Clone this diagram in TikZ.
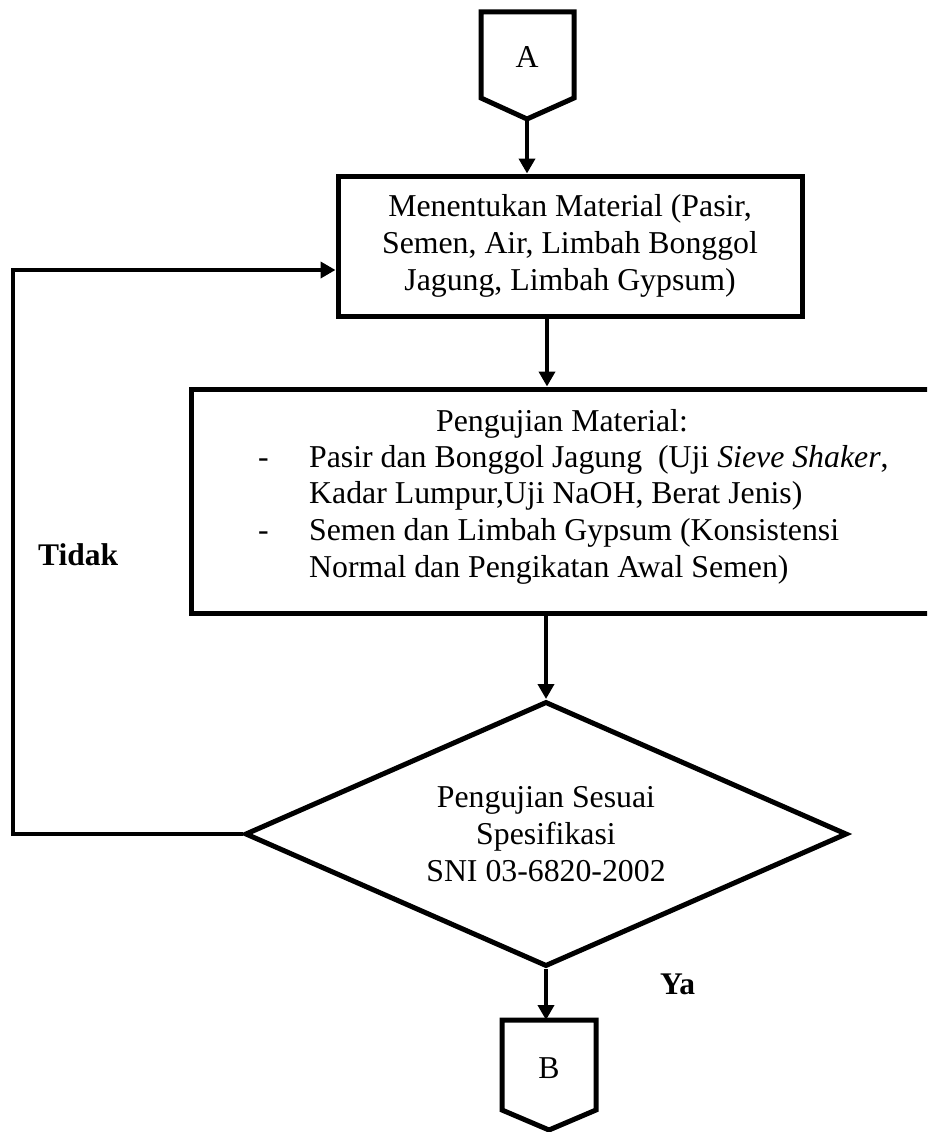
\documentclass[tikz,border=0pt]{standalone}
\usepackage{fontspec}
\setmainfont{Liberation Serif}
\usetikzlibrary{arrows.meta,shapes.geometric,calc}
\begin{document}
\begin{tikzpicture}[x=1pt,y=-1pt,
  shapeline/.style={draw=black,line width=5pt,line join=miter},
  conn/.style={draw=black,line width=4pt},
  arr/.style={conn,-{Triangle[length=15pt,width=16pt]}},
  txt/.style={font=\fontsize{31.8}{36.8}\selectfont,inner sep=0pt},
  lbl/.style={font=\fontsize{31.5}{36.8}\selectfont\bfseries,inner sep=0pt},
]
\useasboundingbox (0,0) rectangle (927,1132);
\clip (0,0) rectangle (927,1132);

% off-page connector A
\coordinate (Atl) at (481,12);
\coordinate (Atr) at (574,12);
\coordinate (Abr) at (574,98);
\coordinate (Atip) at (527,119);
\coordinate (Abl) at (481,98);
\draw[shapeline] (Atl) -- (Atr) -- (Abr) -- (Atip) -- (Abl) -- cycle;
\node[txt] (A) at (527,57) {A};

% box 1
\node[shapeline, txt, minimum width=464, minimum height=140, align=center] (box1) at (570,246)
  {Menentukan Material (Pasir,\\Semen, Air, Limbah Bonggol\\Jagung, Limbah Gypsum)};

% box 2
\node[shapeline, minimum width=742, minimum height=224] (box2) at (562,501) {};
\node[txt, anchor=base] (h2) at (562,431) {Pengujian Material:};
\node[txt, anchor=base west] (list) at (258,467)
  {\begin{tabular}[t]{@{}p{51pt}@{}l@{}}
   -&Pasir dan Bonggol Jagung\ \ (Uji \textit{Sieve Shaker},\\
    &Kadar Lumpur,Uji NaOH, Berat Jenis)\\
   -&Semen dan Limbah Gypsum (Konsistensi\\
    &Normal dan Pengikatan Awal Semen)
   \end{tabular}};

% decision
\node[diamond, shapeline, shape aspect=2.27, minimum width=602, minimum height=265,
      inner sep=0pt, align=center, font=\fontsize{31.8}{36.8}\selectfont] (dia) at (546,834)
  {Pengujian Sesuai\\Spesifikasi\\SNI 03-6820-2002};

% off-page connector B
\coordinate (Btl) at (502,1020);
\coordinate (Btr) at (596,1020);
\coordinate (Bbr) at (596,1110);
\coordinate (Btip) at (549,1130);
\coordinate (Bbl) at (502,1110);
\coordinate (Btop) at (549,1020);
\draw[shapeline] (Btl) -- (Btr) -- (Bbr) -- (Btip) -- (Bbl) -- cycle;
\node[txt] (B) at (549,1068) {B};

% connectors
\coordinate (c12) at (547,316);
\draw[arr] (Atip) -- (box1.north -| Atip);
\draw[arr] (box1.south -| c12) -- (box2.north -| c12);
\draw[arr] (box2.south -| dia.north) -- (dia.north);
\draw[arr] (dia.south) -- (dia.south |- Btop);
\coordinate (loopc) at (13,270);
\draw[arr] (dia.west) -| (loopc) -- (box1.west |- loopc);

% labels
\node[lbl, anchor=west] (tidak) at (38,555) {Tidak};
\node[lbl, anchor=west] (ya) at (660,984) {Ya};
\end{tikzpicture}
\end{document}
